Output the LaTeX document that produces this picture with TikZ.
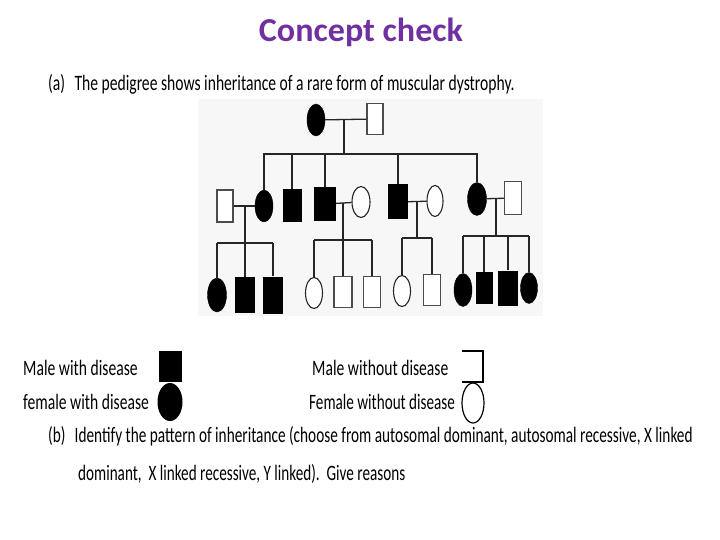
\documentclass[tikz,border=0pt]{standalone}
\usepackage{fontspec}
\usepackage{graphicx}
\setmainfont{Carlito}
\usetikzlibrary{shapes.geometric}
\definecolor{ttl}{RGB}{112,48,160}
\newcommand\xs[1]{\scalebox{0.71}[1]{#1}}
\begin{document}
\begin{tikzpicture}[x=1pt,y=-1pt,
  lbl/.style={anchor=base west,inner sep=0,font=\fontsize{22}{24}\selectfont},
  fa/.style={ellipse,fill=black,draw=black,inner sep=0,minimum width=18,minimum height=32},
  fn/.style={ellipse,draw=black!85,fill=white,line width=1.1pt,inner sep=0,minimum width=17,minimum height=31},
  ma/.style={rectangle,fill=black,inner sep=0,minimum width=19,minimum height=33},
  mn/.style={rectangle,draw=black!70,fill=white,line width=1.1pt,inner sep=0,minimum width=17,minimum height=31},
  ln/.style={line width=1.3pt,draw=black!85}]
\fill[white] (0,0) rectangle (720,540);
\useasboundingbox (0,0) rectangle (720,540);
% title and texts
\node[anchor=base,inner sep=0,text=ttl,font=\fontsize{31}{34}\bfseries\selectfont] (title) at (361,42) {\scalebox{1.1}[1.08]{Concept check}};
\node[lbl] (ta) at (48,91) {\xs{(a)\hspace{0.6em}The pedigree shows inheritance of a rare form of muscular dystrophy.}};
% photo background
\fill[black!3] (198,99) rectangle (543,316);
% Generation I
\node[fa] (I1) at (316,120) {};
\node[mn,minimum width=16,minimum height=31] (I2) at (375,119) {};
\draw[ln] (I1) -- (I2);
\coordinate (d1) at (344,120);
\coordinate (s1a) at (263,154);
\coordinate (s1b) at (478,154);
\draw[ln] (d1) -- (d1 |- s1a);
\draw[ln] (s1a) -- (s1b);
% Generation II
\node[mn,minimum width=16,minimum height=32] (A) at (225,206) {};
\node[fa] (B) at (264,206) {};
\node[ma] (C) at (292,206) {};
\node[ma,minimum width=22,minimum height=34] (D) at (325,204) {};
\node[fn,minimum width=18] (E) at (361,202) {};
\node[ma,minimum width=20,minimum height=35] (F) at (398,202) {};
\node[fn,minimum width=16] (G) at (435,201) {};
\node[fa,minimum width=19,minimum height=33] (H) at (477,199) {};
\node[mn,minimum width=17,minimum height=33] (I) at (513,198) {};
\foreach \n in {B,C,D,F,H} \draw[ln] (\n.north) -- (\n.north |- s1a);
\draw[ln] (A) -- (B);
\draw[ln] (D) -- (E);
\draw[ln] (F) -- (G);
\draw[ln] (H) -- (I);
% Generation III, family 1
\coordinate (m1) at (245,206);
\coordinate (f1a) at (217,243);
\coordinate (f1b) at (273,243);
\draw[ln] (m1) -- (m1 |- f1a);
\draw[ln] (f1a) -- (f1b);
\node[fa,minimum width=19,minimum height=34] (a1) at (217,295) {};
\node[ma,minimum width=20,minimum height=36] (a2) at (245,295) {};
\node[ma,minimum width=20,minimum height=37] (a3) at (273,295) {};
\foreach \n in {a1,a2,a3} \draw[ln] (\n.north) -- (\n.north |- f1a);
% family 2
\coordinate (m2) at (343,203);
\coordinate (f2a) at (314,240);
\coordinate (f2b) at (372,240);
\draw[ln] (m2) -- (m2 |- f2a);
\draw[ln] (f2a) -- (f2b);
\node[fn,minimum width=17,minimum height=31] (b1) at (314,293) {};
\node[mn,minimum width=18,minimum height=31] (b2) at (343,292) {};
\node[mn,minimum width=17,minimum height=31] (b3) at (372,292) {};
\foreach \n in {b1,b2,b3} \draw[ln] (\n.north) -- (\n.north |- f2a);
% family 3
\coordinate (m3) at (417,202);
\coordinate (f3a) at (402,238);
\coordinate (f3b) at (432,238);
\draw[ln] (m3) -- (m3 |- f3a);
\draw[ln] (f3a) -- (f3b);
\node[fn] (c1) at (402,291) {};
\node[mn] (c2) at (432,290) {};
\foreach \n in {c1,c2} \draw[ln] (\n.north) -- (\n.north |- f3a);
% family 4
\coordinate (m4) at (496,199);
\coordinate (f4a) at (463,236);
\coordinate (f4b) at (529,236);
\draw[ln] (m4) -- (m4 |- f4a);
\draw[ln] (f4a) -- (f4b);
\node[fa,minimum width=18,minimum height=33] (e1) at (463,290) {};
\node[ma,minimum width=17,minimum height=32] (e2) at (484,288) {};
\node[ma,minimum width=20,minimum height=35] (e3) at (508,288) {};
\node[fa,minimum width=17,minimum height=31] (e4) at (529,288) {};
\foreach \n in {e1,e2,e3,e4} \draw[ln] (\n.north) -- (\n.north |- f4a);
% legend
\node[lbl] (l1) at (23,375) {\xs{Male with disease}};
\node[lbl] (l2) at (23,409) {\xs{female with disease}};
\node[lbl] (l3) at (312,375) {\xs{Male without disease}};
\node[lbl] (l4) at (309,409) {\scalebox{0.69}[1]{Female without disease}};
\node[rectangle,fill=black,inner sep=0,minimum width=23,minimum height=31] (k1) at (170,366) {};
\node[ellipse,fill=black,inner sep=0,minimum width=25,minimum height=38] (k2) at (170,402) {};
\coordinate (k3a) at (462,351);
\coordinate (k3b) at (483,351);
\coordinate (k3c) at (483,382);
\coordinate (k3d) at (462,382);
\draw[line width=1.4pt] (k3a) -- (k3b) -- (k3c) -- (k3d);
\node[ellipse,draw=black,line width=1.2pt,inner sep=0,minimum width=22,minimum height=40] (k4) at (473,403) {};
% part b
\node[lbl] (tb) at (48,442) {\scalebox{0.695}[1]{(b)\hspace{0.6em}Identify the pattern of inheritance (choose from autosomal dominant, autosomal recessive, X linked}};
\node[lbl] (tb2) at (78,480) {\scalebox{0.69}[1]{dominant,\ \ X linked recessive, Y linked).\ \ Give reasons}};
\end{tikzpicture}
\end{document}
